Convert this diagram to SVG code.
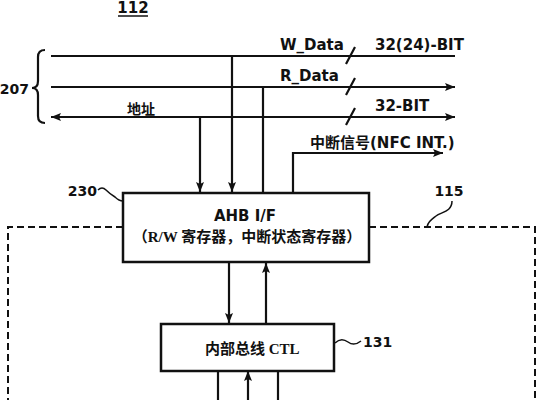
<svg xmlns="http://www.w3.org/2000/svg" width="545" height="400" viewBox="0 0 545 400">
<style>
.ln{fill:none;stroke:#111;stroke-width:2.2}
.bx{fill:#fff;stroke:#111;stroke-width:2.5}
.dash{fill:none;stroke:#111;stroke-width:2;stroke-dasharray:7 4}
.lb{font-family:"DejaVu Sans","Noto Sans CJK SC",sans-serif;font-weight:bold;font-size:15px;fill:#111}
.num{font-family:"DejaVu Sans",sans-serif;font-weight:bold;font-size:14px;fill:#111}
.cn{font-family:"Liberation Serif","Noto Sans CJK SC",serif;font-weight:bold;font-size:15px;fill:#111}
</style>
<defs>
<marker id="arr" markerUnits="userSpaceOnUse" viewBox="0 0 10 8" refX="10" refY="4" markerWidth="10" markerHeight="8" orient="auto-start-reverse">
<path d="M0,0 L10,4 L0,8 L2,4 z" fill="#111"/>
</marker>
</defs>
<rect width="545" height="400" fill="#fff"/>
<g id="title">
<text class="num" x="133" y="13" text-anchor="middle" style="font-size:15px">112</text>
<line x1="118" y1="16" x2="148" y2="16" stroke="#111" stroke-width="1.5"/>
</g>
<g id="bus207">
<path class="ln" d="M45,50 Q38,50 38,57 V81 Q38,88 32,88 Q38,88 38,95 V116 Q38,123 45,123"/>
<text class="num" x="29" y="94" text-anchor="end">207</text>
<text class="lb" x="280" y="50">W_Data</text>
<text class="lb" x="375" y="50">32(24)-BIT</text>
<text class="lb" x="280" y="81">R_Data</text>
<text class="lb" x="375" y="111">32-BIT</text>
<text class="cn" x="127" y="114" style="font-size:14px">地址</text>
<text class="lb" x="310" y="148">中断信号(NFC INT.)</text>
</g>
<g id="connectors">
<path class="ln" d="M51,56 H455"/>
<path class="ln" d="M51,87 H455" marker-end="url(#arr)"/>
<path class="ln" d="M51,117 H455" marker-start="url(#arr)" marker-end="url(#arr)"/>
<path class="ln" d="M346,64 L355,47 M346,95 L355,78 M346,125 L355,108"/>
<path class="ln" d="M200,117 V192" marker-end="url(#arr)"/>
<path class="ln" d="M232,56 V192" marker-end="url(#arr)"/>
<path class="ln" d="M263,193 V87"/>
<path class="ln" d="M293,193 V153 H443" marker-end="url(#arr)"/>
<path class="ln" d="M229,262 V323" marker-end="url(#arr)"/>
<path class="ln" d="M266,324 V263" marker-end="url(#arr)"/>
<path class="ln" d="M218,371 V400"/>
<path class="ln" d="M248,400 V371" marker-end="url(#arr)"/>
<path class="ln" d="M278,371 V400"/>
</g>
<g id="block115">
<path class="dash" d="M123,227 H8 V400 M369,227 H535 V400"/>
<path class="ln" style="stroke-width:1.5" d="M452,201 C452,212 441,212 436,216 S428,222 427,227"/>
<text class="num" x="449" y="196" text-anchor="middle">115</text>
</g>
<g id="ahb">
<rect class="bx" x="123" y="193" width="246" height="69"/>
<text class="lb" x="245" y="221" text-anchor="middle">AHB I/F</text>
<text class="cn" x="247" y="242" text-anchor="middle">（R/W 寄存器，中断状态寄存器）</text>
<path class="ln" style="stroke-width:1.5" d="M98,190 Q102,186 106,190 T115,197 Q119,201 123,201"/>
<text class="num" x="97" y="196" text-anchor="end">230</text>
</g>
<g id="ctl">
<rect class="bx" x="161" y="324" width="173" height="47"/>
<text class="cn" x="205" y="354">内部总线 CTL</text>
<path class="ln" style="stroke-width:1.5" d="M335,343 C339,339 344,339 348,342 S356,345 361,341"/>
<text class="num" x="363" y="347">131</text>
</g>
</svg>
